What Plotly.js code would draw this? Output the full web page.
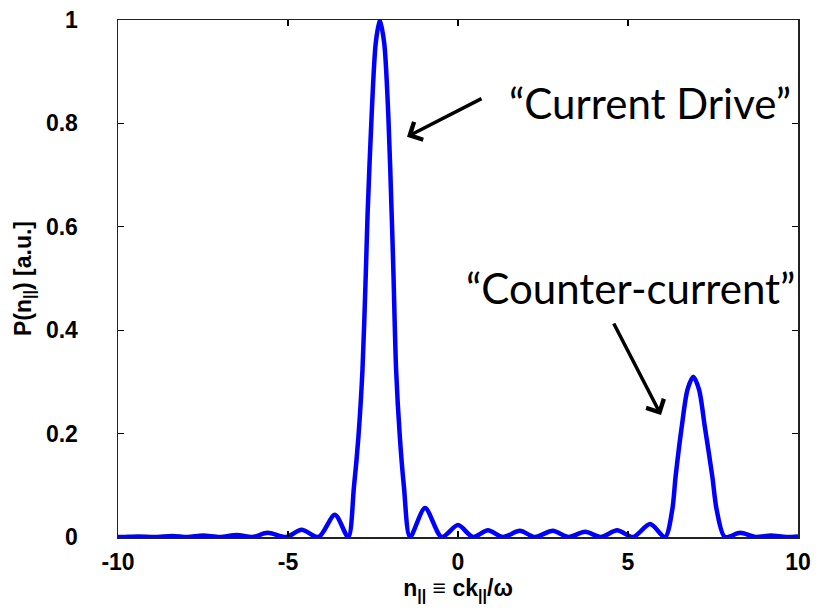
<!DOCTYPE html>
<html>
<head>
<meta charset="utf-8">
<script src="https://cdn.plot.ly/plotly-3.0.1.min.js"></script>
<style>html,body{margin:0;padding:0;background:#fff;}#chart{width:827px;height:610px;}</style>
</head>
<body>
<div id="chart"></div>
<script>
// n_parallel values (x) and spectrum power P(n_parallel) (y)
var nPar = [-10, -9.85, -9.4, -8.9, -8.4, -7.95, -7.5, -7.0, -6.5, -6.05, -5.6, -5.05, -4.6, -4.1, -3.62, -3.23,
  -3.06, -2.93, -2.81, -2.71, -2.66, -2.54, -2.42, -2.3, -2.17, -2.05, -1.95, -1.90, -1.82, -1.71, -1.59, -1.41,
  -0.97, -0.48, 0.0, 0.44, 0.88, 1.32, 1.82, 2.26, 2.79, 3.25, 3.74, 4.2, 4.68, 5.15, 5.65, 6.09,
  6.30, 6.40, 6.58, 6.75, 6.92, 7.09, 7.26, 7.48, 7.61, 7.85, 8.3, 8.75, 9.2, 9.65, 10];
var power = [0, 0, 0.001, 0, 0.002, 0, 0.003, 0, 0.004, 0, 0.008, 0, 0.014, 0, 0.043, 0,
  0.097, 0.193, 0.323, 0.513, 0.623, 0.816, 0.955, 1.0, 0.955, 0.816, 0.623, 0.513, 0.323, 0.193, 0.097, 0,
  0.056, 0, 0.023, 0, 0.013, 0, 0.012, 0, 0.012, 0, 0.010, 0, 0.013, 0, 0.025, 0,
  0.052, 0.117, 0.213, 0.285, 0.31, 0.285, 0.213, 0.117, 0.052, 0, 0.008, 0, 0.003, 0, 0.001];
var xTicks = [-10, -5, 0, 5, 10];
var xTickText = ['-10', '-5', '0', '5', '10'];
var yTicks = [0, 0.2, 0.4, 0.6, 0.8, 1];
var yTickText = ['0', '0.2', '0.4', '0.6', '0.8', '1'];
var labelCD = '\u201CCurrent Drive\u201D';
var labelCC = '\u201CCounter-current\u201D';

var trace = {
  x: nPar, y: power, type: 'scatter', mode: 'lines',
  line: {color: '#0000FF', width: 4.5, shape: 'spline', smoothing: 0.8},
  hoverinfo: 'none'
};

var tickFont = {family: 'Liberation Sans, Arial, sans-serif', size: 23, color: '#000', weight: 'bold'};
var titleFont = {family: 'Liberation Sans, Arial, sans-serif', size: 23, color: '#000', weight: 'bold'};
var annFont = {family: 'Lato, sans-serif', size: 42, color: '#000'};
var layout = {
  width: 827, height: 610,
  margin: {l: 118, r: 29, t: 20, b: 73},
  paper_bgcolor: '#fff', plot_bgcolor: '#fff',
  showlegend: false,
  xaxis: {
    range: [-10, 10], tickvals: xTicks, ticktext: xTickText,
    ticks: 'inside', ticklen: 6, tickwidth: 1.2, tickcolor: '#000',
    showline: true, linecolor: '#222', linewidth: 1.5, mirror: 'ticks',
    showgrid: false, zeroline: false, tickfont: tickFont,
    ticklabelstandoff: 4,
    title: {text: 'n<sub>||</sub> \u2261 ck<sub>||</sub>/\u03C9', font: titleFont, standoff: 4}
  },
  yaxis: {
    range: [0, 1], tickvals: yTicks, ticktext: yTickText,
    ticks: 'inside', ticklen: 6, tickwidth: 1.2, tickcolor: '#000',
    showline: true, linecolor: '#222', linewidth: 1.5, mirror: 'ticks',
    showgrid: false, zeroline: false, tickfont: tickFont,
    ticklabelstandoff: 34,
    title: {text: 'P(n<sub>||</sub>) [a.u.]', font: titleFont, standoff: 8}
  },
  annotations: [
    {x: 5.65, y: 0.839, xref: 'x', yref: 'y', text: labelCD, showarrow: false,
     font: annFont, xanchor: 'center', yanchor: 'middle'},
    {x: 5.06, y: 0.482, xref: 'x', yref: 'y', text: labelCC, showarrow: false,
     font: annFont, xanchor: 'center', yanchor: 'middle'},
    {x: -1.5, y: 0.774, xref: 'x', yref: 'y', text: '', showarrow: true,
     ax: 76, ay: -39, arrowhead: 4, arrowsize: 1.1, arrowwidth: 3.5, arrowcolor: '#000'},
    {x: 5.97, y: 0.236, xref: 'x', yref: 'y', text: '', showarrow: true,
     ax: -48, ay: -93, arrowhead: 4, arrowsize: 1.1, arrowwidth: 3.5, arrowcolor: '#000'}
  ]
};

Plotly.newPlot('chart', [trace], layout, {staticPlot: true, displayModeBar: false});
</script>
</body>
</html>
